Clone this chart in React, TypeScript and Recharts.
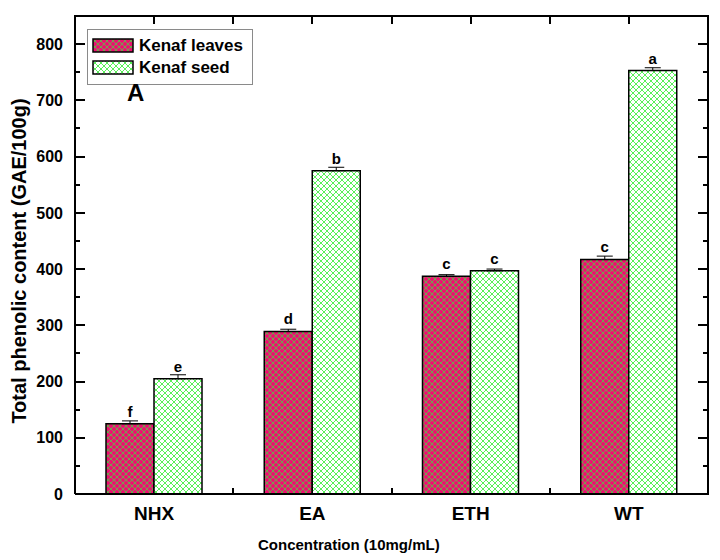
import React from 'react';
import {
  ComposedChart,
  Bar,
  XAxis,
  YAxis,
  ErrorBar,
  LabelList,
} from 'recharts';

const categories = ['NHX', 'EA', 'ETH', 'WT'];
const leavesValues = [125, 289, 387, 417];
const seedValues = [205, 575, 397, 753];
const leavesErrors = [5, 4, 3, 6];
const seedErrors = [7, 6, 3, 5];
const leavesLetters = ['f', 'd', 'c', 'c'];
const seedLetters = ['e', 'b', 'c', 'a'];

const yMajorTicks = [0, 100, 200, 300, 400, 500, 600, 700, 800];
const yMinorTicks = [50, 150, 250, 350, 450, 550, 650, 750];
const Y_MAX = 850;

const data = categories.map((name, i) => ({
  name,
  leaves: leavesValues[i],
  seed: seedValues[i],
  leavesErr: [0, leavesErrors[i]],
  seedErr: [0, seedErrors[i]],
  leavesLetter: leavesLetters[i],
  seedLetter: seedLetters[i],
}));

const FONT = 'Arial, "Liberation Sans", sans-serif';

// chart geometry (shared by the chart and the frame overlay)
const W = 720;
const H = 560;
const MARGIN = { top: 16, right: 12, left: 15, bottom: 36 };
const Y_AXIS_W = 60;
const X_AXIS_H = 30;
const plotLeft = MARGIN.left + Y_AXIS_W;
const plotRight = W - MARGIN.right;
const plotTop = MARGIN.top;
const plotBottom = H - MARGIN.bottom - X_AXIS_H;

const mark = (left: number, top: number, width: number, height: number, key: string) => (
  <div key={key} style={{ position: 'absolute', left, top, width, height, background: '#000' }} />
);

// frame with inward ticks, Origin style (plain html so it always paints on top)
function Frame() {
  const yPos = (v: number) => plotBottom - (v / Y_MAX) * (plotBottom - plotTop);
  const band = (plotRight - plotLeft) / categories.length;
  const xTicks: number[] = [];
  for (let i = 0; i <= categories.length * 2; i++) xTicks.push(plotLeft + (i * band) / 2);
  const items: React.ReactNode[] = [];
  // box
  items.push(mark(plotLeft - 1, plotTop - 1, plotRight - plotLeft + 2, 2, 'top'));
  items.push(mark(plotRight - 1, plotTop - 1, 2, plotBottom - plotTop + 2, 'right'));
  yMajorTicks.forEach((v) => {
    const y = Math.round(yPos(v)) - 1;
    items.push(mark(plotLeft, y, 10, 2, `lM${v}`));
    items.push(mark(plotRight - 10, y, 10, 2, `rM${v}`));
  });
  yMinorTicks.forEach((v) => {
    const y = Math.round(yPos(v)) - 1;
    items.push(mark(plotLeft, y, 5, 2, `lm${v}`));
    items.push(mark(plotRight - 5, y, 5, 2, `rm${v}`));
  });
  xTicks.forEach((x, i) => {
    const xx = Math.round(x) - 1;
    items.push(mark(xx, plotTop, 2, 8, `t${i}`));
    if (i % 2 === 0 && i > 0 && i < xTicks.length - 1) items.push(mark(xx, plotBottom - 6, 2, 6, `b${i}`));
  });
  return <div style={{ position: 'absolute', left: 0, top: 0, width: W, height: H, pointerEvents: 'none', zIndex: 5 }}>{items}</div>;
}

export default function App() {
  return (
    <div style={{ position: 'absolute', left: 0, top: 0, width: W, height: H, background: '#fff', fontFamily: FONT }}>
      <ComposedChart
        width={W}
        height={H}
        data={data}
        margin={MARGIN}
        barGap={0}
        barCategoryGap={31}
      >
        <defs>
          <pattern id="leavesHatch" width="6" height="6" patternUnits="userSpaceOnUse">
            <rect width="6" height="6" fill="#ea1470" />
            <path d="M0,0 L6,6 M6,0 L0,6" stroke="#3fe03f" strokeWidth="0.7" />
          </pattern>
          <pattern id="seedHatch" width="6" height="6" patternUnits="userSpaceOnUse">
            <rect width="6" height="6" fill="#ffffff" />
            <path d="M0,0 L6,6 M6,0 L0,6" stroke="#45ee45" strokeWidth="0.9" />
          </pattern>
        </defs>

        <XAxis
          dataKey="name"
          height={X_AXIS_H}
          tickLine={false}
          tickSize={0}
          tickMargin={13}
          axisLine={{ stroke: '#000', strokeWidth: 2 }}
          tick={{ fill: '#000', fontSize: 19, fontWeight: 'bold', fontFamily: FONT }}
          label={(props: any) => {
            const vb = props.viewBox;
            return (
              <text
                x={258}
                y={vb.y + vb.height + 26}
                textAnchor="start"
                fontSize={15}
                fontWeight="bold"
                fontFamily={FONT}
                fill="#000"
              >
                Concentration (10mg/mL)
              </text>
            );
          }}
        />

        <YAxis
          domain={[0, Y_MAX]}
          ticks={yMajorTicks}
          width={Y_AXIS_W}
          tickLine={false}
          tickSize={0}
          tickMargin={12}
          axisLine={{ stroke: '#000', strokeWidth: 2 }}
          tick={{ fill: '#000', fontSize: 16, fontWeight: 'bold', fontFamily: FONT }}
          label={(props: any) => {
            const vb = props.viewBox;
            const cx = vb.x + 4;
            const cy = vb.y + vb.height / 2 + 6;
            return (
              <text
                x={cx}
                y={cy}
                transform={`rotate(-90, ${cx}, ${cy})`}
                textAnchor="middle"
                dominantBaseline="central"
                fontSize={20}
                fontWeight="bold"
                fontFamily={FONT}
                fill="#000"
              >
                Total phenolic content (GAE/100g)
              </text>
            );
          }}
        />

        <Bar
          dataKey="leaves"
          name="Kenaf leaves"
          fill="url(#leavesHatch)"
          stroke="#000"
          strokeWidth={1.5}
          isAnimationActive={false}
        >
          <ErrorBar dataKey="leavesErr" width={8} stroke="#000" strokeWidth={1} />
          <LabelList dataKey="leavesLetter" position="top" offset={7} fill="#000" fontSize={15} fontWeight="bold" fontFamily={FONT} />
        </Bar>
        <Bar
          dataKey="seed"
          name="Kenaf seed"
          fill="url(#seedHatch)"
          stroke="#000"
          strokeWidth={1.5}
          isAnimationActive={false}
        >
          <ErrorBar dataKey="seedErr" width={8} stroke="#000" strokeWidth={1} />
          <LabelList dataKey="seedLetter" position="top" offset={7} fill="#000" fontSize={15} fontWeight="bold" fontFamily={FONT} />
        </Bar>
      </ComposedChart>

      <Frame />

      {/* legend box */}
      <div
        style={{
          position: 'absolute',
          left: 87,
          top: 29,
          width: 164,
          height: 54,
          border: '1px solid #8a8a8a',
          background: '#fff',
          zIndex: 6,
        }}
      >
        {[
          { label: 'Kenaf leaves', fill: 'url(#leavesHatch)' },
          { label: 'Kenaf seed', fill: 'url(#seedHatch)' },
        ].map((item, i) => (
          <div key={item.label} style={{ position: 'absolute', left: 4, top: 7 + i * 22, height: 17, display: 'flex', alignItems: 'center' }}>
            <svg width={42} height={15} style={{ display: 'block' }}>
              <rect x={1} y={1} width={40} height={13} fill={item.fill} stroke="#000" strokeWidth={1.5} />
            </svg>
            <span style={{ marginLeft: 5, fontSize: 17, fontWeight: 'bold', color: '#000', lineHeight: '17px' }}>{item.label}</span>
          </div>
        ))}
      </div>
      <div style={{ position: 'absolute', left: 127, top: 80, fontSize: 24, fontWeight: 'bold', color: '#000', lineHeight: '26px', zIndex: 6 }}>A</div>
    </div>
  );
}
